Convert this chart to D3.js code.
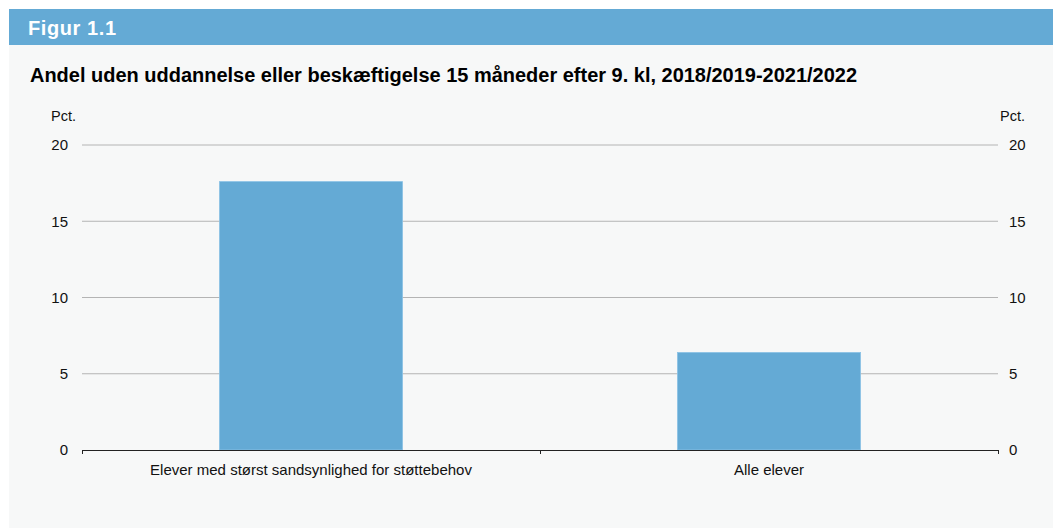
<!DOCTYPE html>
<html>
<head>
<meta charset="utf-8">
<script src="https://cdnjs.cloudflare.com/ajax/libs/d3/7.8.5/d3.min.js"></script>
<style>
  body { margin: 0; background: #fff; font-family: "Liberation Sans", Arial, sans-serif; }
</style>
</head>
<body>
<div id="chart"></div>
<script>
// data
var categories = ["Elever med størst sandsynlighed for støttebehov", "Alle elever"];
var values = [17.6, 6.4];
var yTicks = [0, 5, 10, 15, 20];

var W = 1053, H = 528;
var margin = {top: 145, right: 55, bottom: 78, left: 82};
var width = W - margin.left - margin.right,
    height = H - margin.top - margin.bottom;

var svg = d3.select("#chart").append("svg")
    .attr("width", W)
    .attr("height", H);

// panel background + header band
svg.append("rect").attr("x", 9).attr("y", 9).attr("width", W - 9).attr("height", H - 9)
    .attr("fill", "#f7f8f8");
svg.append("rect").attr("x", 9).attr("y", 9).attr("width", W - 9).attr("height", 36)
    .attr("fill", "#64aad5");
svg.append("text").attr("x", 28).attr("y", 35)
    .attr("fill", "#fff").style("font-size", "20px").style("font-weight", "bold")
    .attr("textLength", 88).attr("lengthAdjust", "spacing")
    .text("Figur 1.1");
svg.append("text").attr("x", 30).attr("y", 82)
    .attr("fill", "#000").style("font-size", "19.5px").style("font-weight", "bold")
    .attr("textLength", 827).attr("lengthAdjust", "spacingAndGlyphs")
    .text("Andel uden uddannelse eller beskæftigelse 15 måneder efter 9. kl, 2018/2019-2021/2022");

var g = svg.append("g")
    .attr("transform", "translate(" + margin.left + "," + margin.top + ")");

var x = d3.scaleBand().domain(categories).range([0, width]).paddingInner(0.6).paddingOuter(0.3);
var y = d3.scaleLinear().domain([0, 20]).range([height, 0]);

// gridlines
g.selectAll(".grid").data(yTicks.filter(function(d){ return d > 0; })).enter()
    .append("line")
    .attr("x1", 0).attr("x2", width)
    .attr("y1", function(d){ return y(d); }).attr("y2", function(d){ return y(d); })
    .attr("stroke", "#b4b4b4").attr("stroke-width", 1);

// bars
g.selectAll(".bar").data(values).enter()
    .append("rect")
    .attr("x", function(d, i){ return x(categories[i]); })
    .attr("width", x.bandwidth())
    .attr("y", function(d){ return y(d); })
    .attr("height", function(d){ return height - y(d); })
    .attr("fill", "#64aad5")
    .attr("stroke", "#8cc3e6").attr("stroke-width", 0.8);

// left & right axis labels
var yl = g.append("g").attr("transform", "translate(-14,0)")
    .call(d3.axisLeft(y).tickValues(yTicks).tickSize(0).tickPadding(0));
var yr = g.append("g").attr("transform", "translate(" + (width + 11) + ",0)")
    .call(d3.axisRight(y).tickValues(yTicks).tickSize(0).tickPadding(0));
[yl, yr].forEach(function(a){
    a.select(".domain").remove();
    a.selectAll("text").style("font-size", "15px").style("font-family", "Liberation Sans, Arial, sans-serif").attr("fill", "#111");
});

g.append("text").attr("x", -31).attr("y", -24).style("font-size", "14.5px").attr("fill", "#111").text("Pct.");
g.append("text").attr("x", width + 2).attr("y", -24).style("font-size", "14.5px").attr("fill", "#111").text("Pct.");

// x axis
g.append("line").attr("x1", 0).attr("x2", width).attr("y1", height + 0.5).attr("y2", height + 0.5)
    .attr("stroke", "#222").attr("stroke-width", 1);
var edges = [0, width / 2, width];
g.selectAll(".xtick").data(edges).enter()
    .append("line")
    .attr("x1", function(d){ return d + 0.5; }).attr("x2", function(d){ return d + 0.5; })
    .attr("y1", height).attr("y2", height + 4)
    .attr("stroke", "#222");
g.selectAll(".xlab").data(categories).enter()
    .append("text")
    .attr("x", function(d){ return x(d) + x.bandwidth() / 2; })
    .attr("y", height + 25)
    .attr("text-anchor", "middle")
    .style("font-size", "15px").attr("fill", "#111")
    .text(function(d){ return d; });
</script>
</body>
</html>
